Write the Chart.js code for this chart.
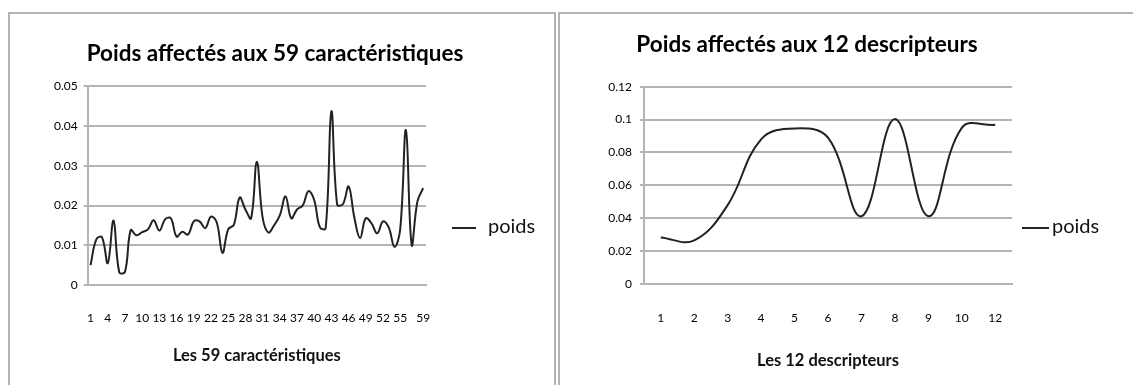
<!DOCTYPE html>
<html>
<head>
<meta charset="utf-8">
<script src="https://cdn.jsdelivr.net/npm/chart.js@4.4.1/dist/chart.umd.min.js"></script>
<style>
  body { margin: 0; background: #fff; width: 1133px; height: 385px; overflow: hidden; position: relative; }
  .panel { position: absolute; top: 12px; border: 2px solid #b4b4b4; background: #fff; }
  #leftPanel { left: 8px; width: 544px; height: 380px; }
  #rightPanel { left: 558px; width: 575px; height: 380px; }
  .panel div { position: relative; width: 100%; height: 100%; }
</style>
</head>
<body>
<div class="panel" id="leftPanel"><div><canvas id="chartLeft"></canvas></div></div>
<div class="panel" id="rightPanel"><div><canvas id="chartRight"></canvas></div></div>
<script>
// Left chart: 59 caractéristiques
const featureLabels = ['1','2','3','4','5','6','7','8','9','10','11','12','13','14','15','16','17','18','19','20',
    '21','22','23','24','25','26','27','28','29','30','31','32','33','34','35','36','37','38','39','40',
    '41','42','43','44','45','46','47','48','49','50','51','52','53','54','55','56','57','58','59'];
const featureWeights = [0.005, 0.0115, 0.012, 0.0055, 0.0162, 0.0032, 0.0033, 0.0138, 0.0125, 0.0133,
    0.014, 0.0163, 0.0137, 0.0165, 0.0168, 0.0122, 0.0134, 0.0127, 0.016, 0.016,
    0.0143, 0.0172, 0.0158, 0.0081, 0.014, 0.0152, 0.022, 0.019, 0.0168, 0.031,
    0.017, 0.0132, 0.015, 0.0175, 0.0223, 0.0168, 0.019, 0.02, 0.0236, 0.0214,
    0.0145, 0.0143, 0.0437, 0.0203, 0.0203, 0.0248, 0.017, 0.0118, 0.0168, 0.0155,
    0.013, 0.016, 0.0145, 0.0096, 0.014, 0.039, 0.0101, 0.021, 0.0244];
const featureTicksShown = ['1','4','7','10','13','16','19','22','25','28','31','34','37','40','43','46','49','52','55','59'];

// Right chart: 12 descripteurs
const descriptorLabels = ['1','2','3','4','5','6','7','8','9','10','12'];
const descriptorWeights = [0.0283, 0.0265, 0.048, 0.088, 0.0946, 0.089, 0.0412, 0.1003, 0.0412, 0.095, 0.0968];

const gridGray = '#b4b4b4';
const fontFamily = 'Lato, "Open Sans", sans-serif';

// draws the "— poids" legend to the right of the plot area
const sideLegend = {
    id: 'sideLegend',
    afterDraw(chart, args, opts) {
        const ctx = chart.ctx;
        const area = chart.chartArea;
        const y = area.bottom - opts.dy;
        ctx.save();
        ctx.strokeStyle = '#222';
        ctx.lineWidth = 2;
        ctx.beginPath();
        ctx.moveTo(area.right + opts.x0, y);
        ctx.lineTo(area.right + opts.x1, y);
        ctx.stroke();
        ctx.fillStyle = '#111';
        ctx.font = '20px ' + fontFamily;
        ctx.textBaseline = 'middle';
        ctx.fillText(chart.data.datasets[0].label, area.right + opts.xText, y - 1);
        ctx.restore();
    }
};

function makeConfig(labels, values, s) {
    return {
        type: 'line',
        data: {
            labels: labels,
            datasets: [{
                label: 'poids',
                data: values,
                borderColor: '#222',
                borderWidth: 2,
                pointRadius: 0,
                fill: false,
                tension: 0.4
            }]
        },
        options: {
            responsive: true,
            maintainAspectRatio: false,
            animation: false,
            layout: { padding: { left: 0, right: s.padRight, top: 0, bottom: s.padBottom } },
            scales: {
                x: {
                    offset: true,
                    grid: { display: false, drawTicks: false },
                    border: { display: true, color: gridGray, width: 2 },
                    ticks: {
                        autoSkip: false,
                        maxRotation: 0,
                        padding: s.xTickPad,
                        color: '#000',
                        font: { family: fontFamily, size: 12 },
                        callback: function (val) {
                            const lab = this.getLabelForValue(val);
                            return s.shown.includes(lab) ? lab : '';
                        }
                    },
                    title: {
                        display: true,
                        text: s.xTitle,
                        color: '#111',
                        padding: 0,
                        font: { family: fontFamily, size: 16.5, weight: 'bold' }
                    },
                    afterFit: (scale) => { scale.height = s.xHeight; }
                },
                y: {
                    min: 0,
                    max: s.yMax,
                    grid: { color: gridGray, lineWidth: 2, tickLength: 4 },
                    border: { display: true, color: gridGray, width: 2 },
                    ticks: {
                        stepSize: s.yStep,
                        padding: s.yTickPad,
                        color: '#000',
                        font: { family: fontFamily, size: 12 },
                        callback: (v) => String(+v.toFixed(3))
                    },
                    afterFit: (scale) => { scale.width = s.yWidth; }
                },
                // empty right-hand axis that only reserves room for the legend
                yGap: {
                    type: 'linear',
                    axis: 'y',
                    position: 'right',
                    grid: { display: false, drawTicks: false },
                    border: { display: false },
                    ticks: { display: false },
                    afterFit: (scale) => { scale.width = s.rightGap; }
                }
            },
            plugins: {
                legend: { display: false },
                tooltip: { enabled: false },
                title: {
                    display: true,
                    text: s.title,
                    color: '#000',
                    font: { family: fontFamily, size: 22.5, weight: 'bold' },
                    padding: { top: s.titleTop, bottom: s.titleBottom }
                },
                sideLegend: s.legend
            }
        },
        plugins: [sideLegend]
    };
}

new Chart(document.getElementById('chartLeft'), makeConfig(featureLabels, featureWeights, {
    title: 'Poids affectés aux 59 caractéristiques',
    xTitle: 'Les 59 caractéristiques',
    shown: featureTicksShown,
    yMax: 0.05, yStep: 0.01,
    padRight: 14, rightGap: 114, padBottom: 28.5,
    titleTop: 26.5, titleBottom: 18.8,
    yWidth: 77.7, yTickPad: 6,
    xHeight: 80.5, xTickPad: 26,
    legend: { dy: 57, x0: 26, x1: 50, xText: 62 }
}));

new Chart(document.getElementById('chartRight'), makeConfig(descriptorLabels, descriptorWeights, {
    title: 'Poids affectés aux 12 descripteurs',
    xTitle: 'Les 12 descripteurs',
    shown: descriptorLabels,
    yMax: 0.12, yStep: 0.02,
    padRight: 81, rightGap: 42, padBottom: 23.5,
    titleTop: 17.5, titleBottom: 28.2,
    yWidth: 84, yTickPad: 8,
    xHeight: 86.5, xTickPad: 27,
    legend: { dy: 56, x0: 10, x1: 37, xText: 40 }
}));
</script>
</body>
</html>
